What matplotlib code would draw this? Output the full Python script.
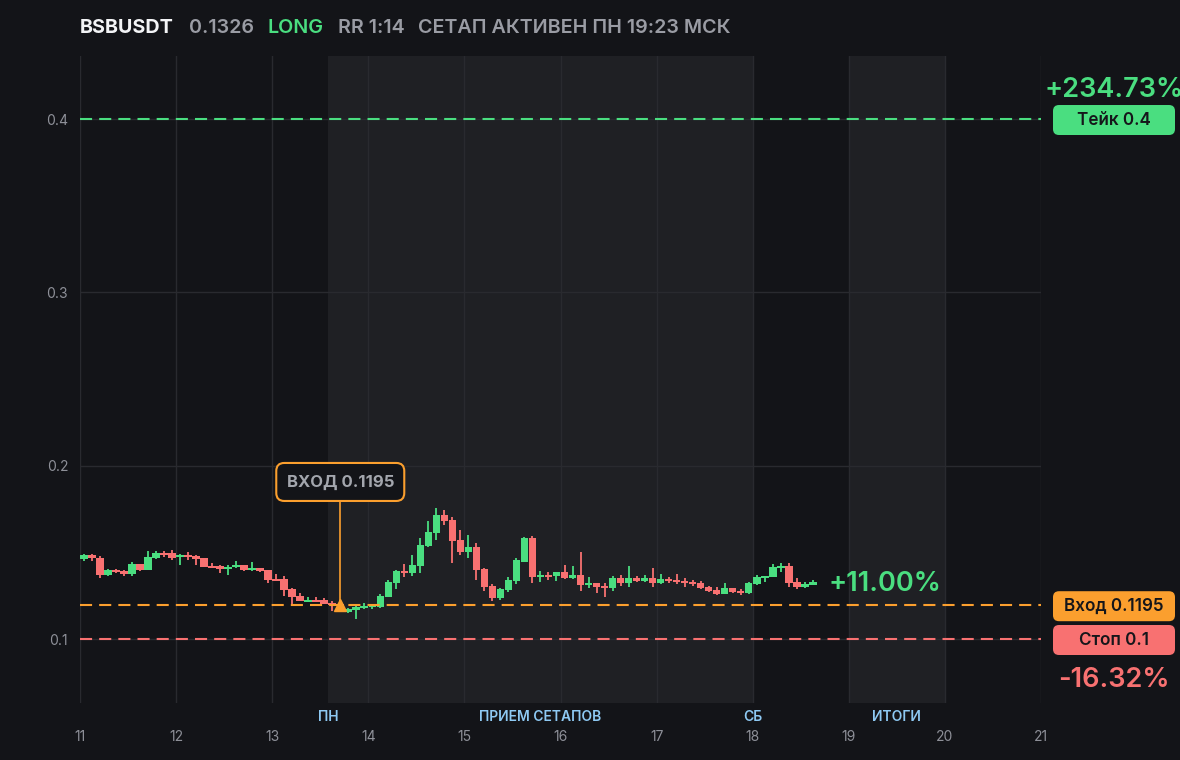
import matplotlib
matplotlib.use("Agg")
import matplotlib.pyplot as plt
from matplotlib.patches import FancyBboxPatch
from matplotlib.transforms import blended_transform_factory

plt.rcParams['font.family'] = ['Inter', 'DejaVu Sans']

# ---------------- data ----------------
symbol = 'BSBUSDT'
last_price_text = '0.1326'
side = 'LONG'
rr_text = 'RR 1:14'
status_text = 'СЕТАП АКТИВЕН ПН 19:23 МСК'

start_day = 11
candles_per_day = 12  # 2h candles

opens = [0.1462, 0.1485, 0.1467, 0.1371, 0.1398, 0.1392, 0.1377, 0.1433, 0.1398, 0.1469,
         0.1496, 0.1496, 0.1473, 0.1485, 0.1479, 0.1467, 0.1421, 0.1421, 0.1406, 0.1415,
         0.1427, 0.1400, 0.1410, 0.1398, 0.1346, 0.1346, 0.1288, 0.1248, 0.1215, 0.1225,
         0.1225, 0.1208, 0.1202, 0.1156, 0.1169, 0.1181, 0.1183, 0.1185, 0.1242, 0.1323,
         0.1394, 0.1381, 0.1421, 0.1537, 0.1612, 0.1715, 0.1687, 0.1571, 0.1502, 0.1531,
         0.1404, 0.1306, 0.1237, 0.1283, 0.1335, 0.1446, 0.1583, 0.1358, 0.1369, 0.1363,
         0.1387, 0.1352, 0.1369, 0.1312, 0.1323, 0.1306, 0.1294, 0.1352, 0.1323, 0.1352,
         0.1335, 0.1352, 0.1323, 0.1346, 0.1340, 0.1335, 0.1329, 0.1323, 0.1300, 0.1283,
         0.1260, 0.1294, 0.1277, 0.1265, 0.1317, 0.1352, 0.1358, 0.1410, 0.1421, 0.1329,
         0.1300, 0.1312]
highs = [0.1490, 0.1490, 0.1479, 0.1404, 0.1406, 0.1400, 0.1444, 0.1433, 0.1508, 0.1508,
         0.1508, 0.1513, 0.1490, 0.1502, 0.1487, 0.1467, 0.1438, 0.1429, 0.1427, 0.1450,
         0.1427, 0.1444, 0.1410, 0.1398, 0.1375, 0.1363, 0.1296, 0.1265, 0.1242, 0.1242,
         0.1237, 0.1219, 0.1225, 0.1179, 0.1202, 0.1208, 0.1190, 0.1258, 0.1340, 0.1398,
         0.1433, 0.1485, 0.1583, 0.1681, 0.1756, 0.1744, 0.1704, 0.1629, 0.1600, 0.1554,
         0.1410, 0.1317, 0.1294, 0.1358, 0.1467, 0.1588, 0.1594, 0.1392, 0.1387, 0.1387,
         0.1427, 0.1421, 0.1502, 0.1358, 0.1323, 0.1323, 0.1363, 0.1369, 0.1421, 0.1363,
         0.1369, 0.1410, 0.1375, 0.1358, 0.1375, 0.1352, 0.1340, 0.1335, 0.1306, 0.1300,
         0.1323, 0.1294, 0.1288, 0.1329, 0.1369, 0.1363, 0.1433, 0.1438, 0.1438, 0.1352,
         0.1329, 0.1340]
lows = [0.1452, 0.1452, 0.1354, 0.1365, 0.1381, 0.1365, 0.1365, 0.1392, 0.1398, 0.1462,
        0.1475, 0.1456, 0.1429, 0.1458, 0.1429, 0.1417, 0.1412, 0.1383, 0.1371, 0.1412,
        0.1394, 0.1394, 0.1388, 0.1325, 0.1337, 0.1250, 0.1192, 0.1221, 0.1215, 0.1215,
        0.1202, 0.1162, 0.1177, 0.1152, 0.1117, 0.1175, 0.1175, 0.1179, 0.1242, 0.1288,
        0.1358, 0.1363, 0.1381, 0.1531, 0.1571, 0.1658, 0.1438, 0.1485, 0.1467, 0.1340,
        0.1277, 0.1219, 0.1225, 0.1271, 0.1317, 0.1442, 0.1323, 0.1329, 0.1340, 0.1335,
        0.1346, 0.1346, 0.1277, 0.1294, 0.1265, 0.1242, 0.1277, 0.1306, 0.1300, 0.1329,
        0.1329, 0.1300, 0.1317, 0.1323, 0.1317, 0.1300, 0.1306, 0.1288, 0.1271, 0.1254,
        0.1260, 0.1265, 0.1254, 0.1260, 0.1312, 0.1329, 0.1358, 0.1387, 0.1300, 0.1288,
        0.1294, 0.1312]
closes = [0.1485, 0.1465, 0.1371, 0.1398, 0.1387, 0.1377, 0.1433, 0.1398, 0.1473, 0.1496,
          0.1485, 0.1469, 0.1485, 0.1475, 0.1463, 0.1417, 0.1412, 0.1406, 0.1415, 0.1427,
          0.1400, 0.1410, 0.1394, 0.1342, 0.1337, 0.1285, 0.1244, 0.1221, 0.1225, 0.1215,
          0.1204, 0.1194, 0.1190, 0.1173, 0.1185, 0.1190, 0.1190, 0.1246, 0.1329, 0.1392,
          0.1381, 0.1427, 0.1542, 0.1617, 0.1715, 0.1681, 0.1565, 0.1502, 0.1531, 0.1398,
          0.1300, 0.1237, 0.1288, 0.1340, 0.1456, 0.1583, 0.1358, 0.1369, 0.1358, 0.1387,
          0.1352, 0.1369, 0.1312, 0.1323, 0.1300, 0.1294, 0.1352, 0.1323, 0.1352, 0.1335,
          0.1352, 0.1323, 0.1346, 0.1335, 0.1329, 0.1323, 0.1317, 0.1294, 0.1277, 0.1260,
          0.1294, 0.1271, 0.1265, 0.1323, 0.1358, 0.1363, 0.1415, 0.1421, 0.1323, 0.1300,
          0.1317, 0.1326]

entry_price = 0.1195
take_price = 0.4
stop_price = 0.1
entry_candle = 32
entry_label = 'ВХОД 0.1195'
entry_label_price = 0.1906
take_label = 'Тейк 0.4'
entry_box_label = 'Вход 0.1195'
stop_label = 'Стоп 0.1'
take_pct = '+234.73%'
stop_pct = '-16.32%'
current_pct = '+11.00%'

day_ticks = [11, 12, 13, 14, 15, 16, 17, 18, 19, 20, 21]
y_ticks = [0.1, 0.2, 0.3, 0.4]
y_tick_labels = ['0.1', '0.2', '0.3', '0.4']
zone_spans = [(13 + 7 / 12, 18.0), (19.0, 20.0)]
zone_labels = ['ПН', 'ПРИЕМ СЕТАПОВ', 'СБ', 'ИТОГИ']
zone_label_x = [13 + 7 / 12, (13 + 7 / 12 + 18.0) / 2, 18.0, 19.5]

# ---------------- style ----------------
BG = '#131418'
SHADE = '#1f2024'
GRID = '#292a2f'
GREEN = '#4ade80'
RED = '#f87171'
ORANGE = '#fb9f2e'
GREY = '#9a9ca4'
TICK = '#8e9098'
BLUE = '#8ec9f3'
W, H = 1180, 760

fig = plt.figure(figsize=(W / 100, H / 100), dpi=100, facecolor=BG)
ax = fig.add_axes([80 / W, 1 - 703 / H, 961 / W, 647 / H], facecolor=BG)
ax.set_xlim(11, 21)
ax.set_ylim(0.06308, 0.43635)
for s in ax.spines.values():
    s.set_visible(False)

for a, b in zone_spans:
    ax.axvspan(a, b, color=SHADE, zorder=0.1, lw=0)

ax.set_xticks(day_ticks)
ax.set_yticks(y_ticks)
ax.set_yticklabels(y_tick_labels)
ax.set_axisbelow(True)
ax.grid(True, color=GRID, lw=1.0)
ax.tick_params(axis='both', length=0)
ax.tick_params(axis='x', labelbottom=False)
ax.tick_params(axis='y', pad=8.5, labelcolor=TICK, labelsize=10)

# x labels and zone labels
tb = blended_transform_factory(ax.transData, fig.transFigure)
for d in day_ticks:
    ax.text(d, 1 - 737 / H, str(d), transform=tb, ha='center', va='center',
            color=TICK, fontsize=10)
for lab, x in zip(zone_labels, zone_label_x):
    ax.text(x, 1 - 717 / H, lab, transform=tb, ha='center', va='center',
            color=BLUE, fontsize=10, fontweight='semibold')

# candles
cw = 1 / candles_per_day
xs = [start_day + (k + 0.5) * cw for k in range(len(opens))]
for x, o, h, l, c in zip(xs, opens, highs, lows, closes):
    col = GREEN if c >= o else RED
    ax.vlines(x, l, h, color=col, lw=1.3, zorder=3)
    bot = min(o, c)
    ht = max(abs(c - o), 0.00035)
    ax.bar(x, ht, bottom=bot, width=cw * 0.95, color=col, lw=0, zorder=3)

# level lines
for p, col in [(take_price, GREEN), (entry_price, ORANGE), (stop_price, RED)]:
    ax.axhline(p, color=col, lw=1.5, dashes=(5.8, 3.4), zorder=4)

# entry marker + annotation
x_entry = xs[entry_candle]
ax.plot([x_entry], [entry_price], marker='^', ms=9, color=ORANGE, mec=ORANGE, zorder=6)

# overlay axes in pixel units
ov = fig.add_axes([0, 0, 1, 1])
ov.set_xlim(0, W)
ov.set_ylim(H, 0)
ov.axis('off')
ov.patch.set_visible(False)

def to_px(x, y):
    X, Y = ax.transData.transform((x, y))
    return X, H - Y

ex, ey = to_px(x_entry, entry_label_price)
_, emk = to_px(x_entry, entry_price)
bw, bh = 128, 38
ov.plot([ex, ex], [ey + bh / 2, emk - 5], color=ORANGE, lw=1.2, zorder=5)
ov.add_patch(FancyBboxPatch((ex - bw / 2, ey - bh / 2), bw, bh,
                            boxstyle='round,pad=0,rounding_size=8',
                            fc=BG, ec=ORANGE, lw=1.5, zorder=6))
ov.text(ex, ey, entry_label, ha='center', va='center', color='#a3a6ad',
        fontsize=12, fontweight='bold', zorder=7)

# right price boxes
box_x0, box_w, box_h = 1053, 122, 30
for p, col, lab in [(take_price, GREEN, take_label), (entry_price, ORANGE, entry_box_label),
                    (stop_price, RED, stop_label)]:
    _, py = to_px(21, p)
    ov.add_patch(FancyBboxPatch((box_x0, py - box_h / 2 + 1), box_w, box_h,
                                boxstyle='round,pad=0,rounding_size=6',
                                fc=col, ec='none', zorder=6))
    ov.text(box_x0 + box_w / 2, py + 1, lab, ha='center', va='center',
            color='#15161a', fontsize=12.3, fontweight='semibold', zorder=7)

_, ty = to_px(21, take_price)
ov.text(box_x0 + box_w / 2, ty - 29, take_pct, ha='center', va='center',
        color=GREEN, fontsize=19.5, fontweight='semibold', clip_on=False)
_, sy = to_px(21, stop_price)
ov.text(box_x0 + box_w / 2, sy + 41, stop_pct, ha='center', va='center',
        color=RED, fontsize=19.5, fontweight='semibold', clip_on=False)
lx, ly = to_px(xs[-1] + cw / 2, closes[-1])
ov.text(lx + 12, ly + 2, current_pct, ha='left', va='center',
        color=GREEN, fontsize=19.5, fontweight='semibold')

# header
hy = 1 - 28 / H
hs = 14.2
fig.text(80 / W, hy, symbol, color='#f3f4f6', fontsize=hs, fontweight='bold', va='center')
fig.text(188.5 / W, hy, last_price_text, color=GREY, fontsize=hs, fontweight='semibold', va='center')
fig.text(267.5 / W, hy, side, color=GREEN, fontsize=hs, fontweight='semibold', va='center')
fig.text(337.5 / W, hy, rr_text, color=GREY, fontsize=hs, fontweight='semibold', va='center')
fig.text(418.5 / W, hy, status_text, color=GREY, fontsize=hs, fontweight='semibold', va='center')

fig.savefig('out.png', dpi=100, facecolor=BG)
